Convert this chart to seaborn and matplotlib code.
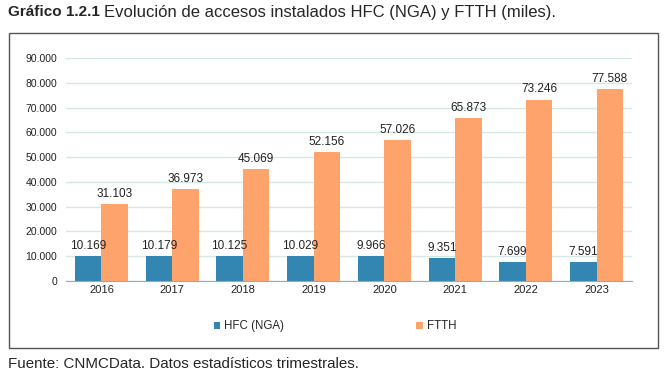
import pandas as pd
import matplotlib.pyplot as plt
import seaborn as sns
from matplotlib.patches import Rectangle
from matplotlib.ticker import FuncFormatter

# datos (miles de accesos)
years = ['2016', '2017', '2018', '2019', '2020', '2021', '2022', '2023']
hfc = [10169, 10179, 10125, 10029, 9966, 9351, 7699, 7591]
ftth = [31103, 36973, 45069, 52156, 57026, 65873, 73246, 77588]
series = ['HFC (NGA)', 'FTTH']
colors = ['#3386B2', '#FFA36C']

df = pd.DataFrame({
    'year': years * 2,
    'value': hfc + ftth,
    'serie': [series[0]] * len(years) + [series[1]] * len(years),
})

sns.set_style('white')
plt.rcParams['font.family'] = ['Liberation Sans', 'DejaVu Sans']

fig = plt.figure(figsize=(6.64, 3.76), dpi=100)
ax = fig.add_axes([66 / 664, 1 - 281 / 376, 566 / 664, 223 / 376])

sns.barplot(data=df, x='year', y='value', hue='serie', palette=colors,
            width=0.75, saturation=1, linewidth=0, ax=ax, legend=True)

def miles(v, pos):
    return f'{int(v):,}'.replace(',', '.')

ax.set_ylim(0, 90000)
ax.set_yticks(range(0, 90001, 10000))
ax.yaxis.set_major_formatter(FuncFormatter(miles))
ax.set_xlabel('')
ax.set_ylabel('')
ax.grid(axis='y', color='#D5E8E3', lw=1)
ax.set_axisbelow(True)
for s in ['top', 'right', 'left']:
    ax.spines[s].set_visible(False)
ax.spines['bottom'].set_color('#9AAAB5')
ax.tick_params(axis='y', length=0, labelsize=7.5, colors='#222222', pad=6.5)
ax.tick_params(axis='x', length=0, labelsize=8, colors='#222222', pad=3)

# etiquetas de valor
for cont in ax.containers:
    ax.bar_label(cont, labels=[miles(b.get_height(), 0) for b in cont],
                 padding=3, fontsize=8.5, color='#222222')

ax.legend(loc='upper center', bbox_to_anchor=(0.475, -0.13), ncol=2,
          frameon=False, fontsize=8.3, handlelength=0.6, handleheight=0.6,
          handletextpad=0.3, columnspacing=11.5)

# marco
fig.add_artist(Rectangle((9 / 664, 1 - 348 / 376), 649 / 664, 315 / 376,
                         transform=fig.transFigure, fill=False,
                         edgecolor='#555555', lw=1))

t1 = fig.text(8 / 664, 1 - 12 / 376, 'Gráfico 1.2.1', fontsize=11,
              fontweight='bold', va='center')
fig.canvas.draw()
bb = t1.get_window_extent()
fig.text((bb.x1 + 4) / 664, 1 - 12 / 376,
         'Evolución de accesos instalados HFC (NGA) y FTTH (miles).',
         fontsize=12, va='center')
fig.text(8 / 664, 1 - 364 / 376, 'Fuente: CNMCData. Datos estadísticos trimestrales.',
         fontsize=10.9, va='center')

fig.savefig('out.png', dpi=100)
